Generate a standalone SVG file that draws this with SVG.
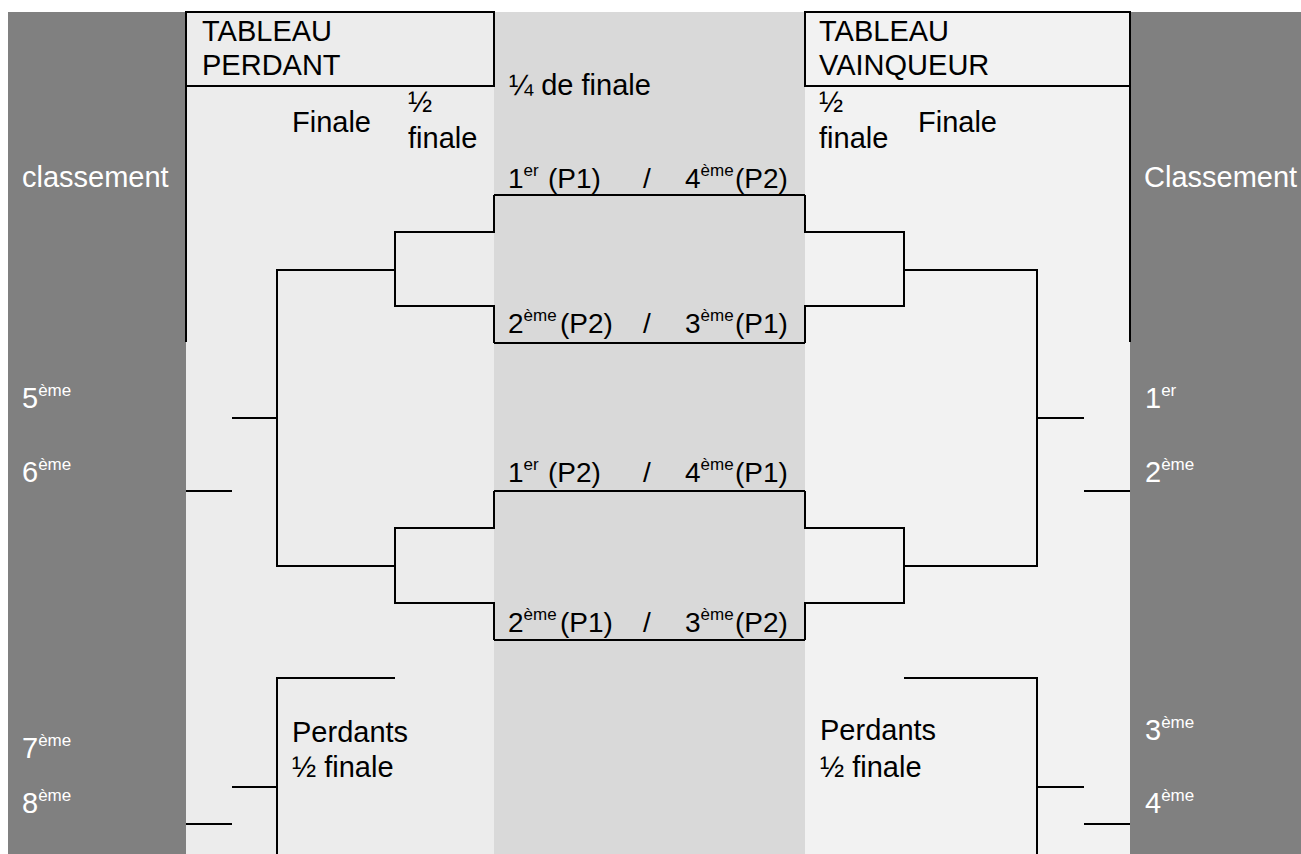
<svg xmlns="http://www.w3.org/2000/svg" width="1301" height="854" viewBox="0 0 1301 854">
<style>
text{font-family:"Liberation Sans",Arial,sans-serif;font-size:29px;fill:#000}
.m{font-size:28px}
.w{fill:#fff}
.sup{font-size:17px}
.ln{fill:none;stroke:#000;stroke-width:2}
</style>
<rect x="0" y="0" width="1301" height="854" fill="#fff"/>
<g id="panels">
<rect x="8" y="12" width="178" height="842" fill="#808080"/>
<rect x="186" y="12" width="308" height="842" fill="#ececec"/>
<rect x="494" y="12" width="311" height="842" fill="#d9d9d9"/>
<rect x="805" y="12" width="325" height="842" fill="#f2f2f2"/>
<rect x="1130" y="12" width="171" height="842" fill="#808080"/>
</g>
<g id="tableau-perdant">
<rect x="186" y="12" width="308" height="74" class="ln"/>
<path d="M186,86 V342" class="ln"/>
<text x="202" y="41">TABLEAU</text>
<text x="202" y="75">PERDANT</text>
</g>
<g id="tableau-vainqueur">
<rect x="805" y="12" width="325" height="74" class="ln"/>
<path d="M1130,86 V342" class="ln"/>
<text x="819" y="41">TABLEAU</text>
<text x="819" y="75">VAINQUEUR</text>
</g>
<g id="round-headers">
<text x="292" y="132">Finale</text>
<text x="408" y="112">½</text>
<text x="408" y="148">finale</text>
<text x="509" y="95">¼ de finale</text>
<text x="819" y="112">½</text>
<text x="819" y="148">finale</text>
<text x="918" y="132">Finale</text>
</g>
<g id="classement-left">
<text class="w" x="22" y="187">classement</text>
<text class="w" x="22" y="408">5<tspan class="sup" dy="-12">ème</tspan></text>
<text class="w" x="22" y="482">6<tspan class="sup" dy="-12">ème</tspan></text>
<text class="w" x="22" y="758">7<tspan class="sup" dy="-12">ème</tspan></text>
<text class="w" x="22" y="813">8<tspan class="sup" dy="-12">ème</tspan></text>
</g>
<g id="classement-right">
<text class="w" x="1144" y="187">Classement</text>
<text class="w" x="1145" y="408">1<tspan class="sup" dy="-12">er</tspan></text>
<text class="w" x="1145" y="482">2<tspan class="sup" dy="-12">ème</tspan></text>
<text class="w" x="1145" y="740">3<tspan class="sup" dy="-12">ème</tspan></text>
<text class="w" x="1145" y="813">4<tspan class="sup" dy="-12">ème</tspan></text>
</g>
<g id="match-1">
<text class="m" x="508" y="188">1<tspan class="sup" dy="-12">er</tspan></text><text class="m" x="548" y="188">(P1)</text>
<text class="m" x="643" y="188">/</text>
<text class="m" x="685" y="188">4<tspan class="sup" dy="-12">ème</tspan></text><text class="m" x="735" y="188">(P2)</text>
</g>
<g id="match-2">
<text class="m" x="508" y="333">2<tspan class="sup" dy="-12">ème</tspan></text><text class="m" x="560" y="333">(P2)</text>
<text class="m" x="643" y="333">/</text>
<text class="m" x="685" y="333">3<tspan class="sup" dy="-12">ème</tspan></text><text class="m" x="735" y="333">(P1)</text>
</g>
<g id="match-3">
<text class="m" x="508" y="482">1<tspan class="sup" dy="-12">er</tspan></text><text class="m" x="548" y="482">(P2)</text>
<text class="m" x="643" y="482">/</text>
<text class="m" x="685" y="482">4<tspan class="sup" dy="-12">ème</tspan></text><text class="m" x="735" y="482">(P1)</text>
</g>
<g id="match-4">
<text class="m" x="508" y="632">2<tspan class="sup" dy="-12">ème</tspan></text><text class="m" x="560" y="632">(P1)</text>
<text class="m" x="643" y="632">/</text>
<text class="m" x="685" y="632">3<tspan class="sup" dy="-12">ème</tspan></text><text class="m" x="735" y="632">(P2)</text>
</g>
<g id="perdants-left">
<text x="292" y="742">Perdants</text>
<text x="292" y="777">½ finale</text>
</g>
<g id="perdants-right">
<text x="820" y="740">Perdants</text>
<text x="820" y="777">½ finale</text>
</g>
<g id="connectors" class="ln">
<path d="M494,195 H805 M494,343 H805 M494,491 H805 M494,640 H805"/>
<path d="M494,195 V232 H395 V306 H494 V343"/>
<path d="M805,195 V232 H904 V306 H805 V343"/>
<path d="M494,491 V528 H395 V603 H494 V640"/>
<path d="M805,491 V528 H904 V603 H805 V640"/>
<path d="M395,270 H277 V566 H395"/>
<path d="M904,270 H1037 V566 H904"/>
<path d="M277,418 H232 M232,491 H186"/>
<path d="M1037,418 H1084 M1084,491 H1130"/>
<path d="M395,678 H277 V854 M277,787 H232 M232,824 H186"/>
<path d="M904,678 H1037 V854 M1037,787 H1084 M1084,824 H1130"/>
</g>
</svg>
